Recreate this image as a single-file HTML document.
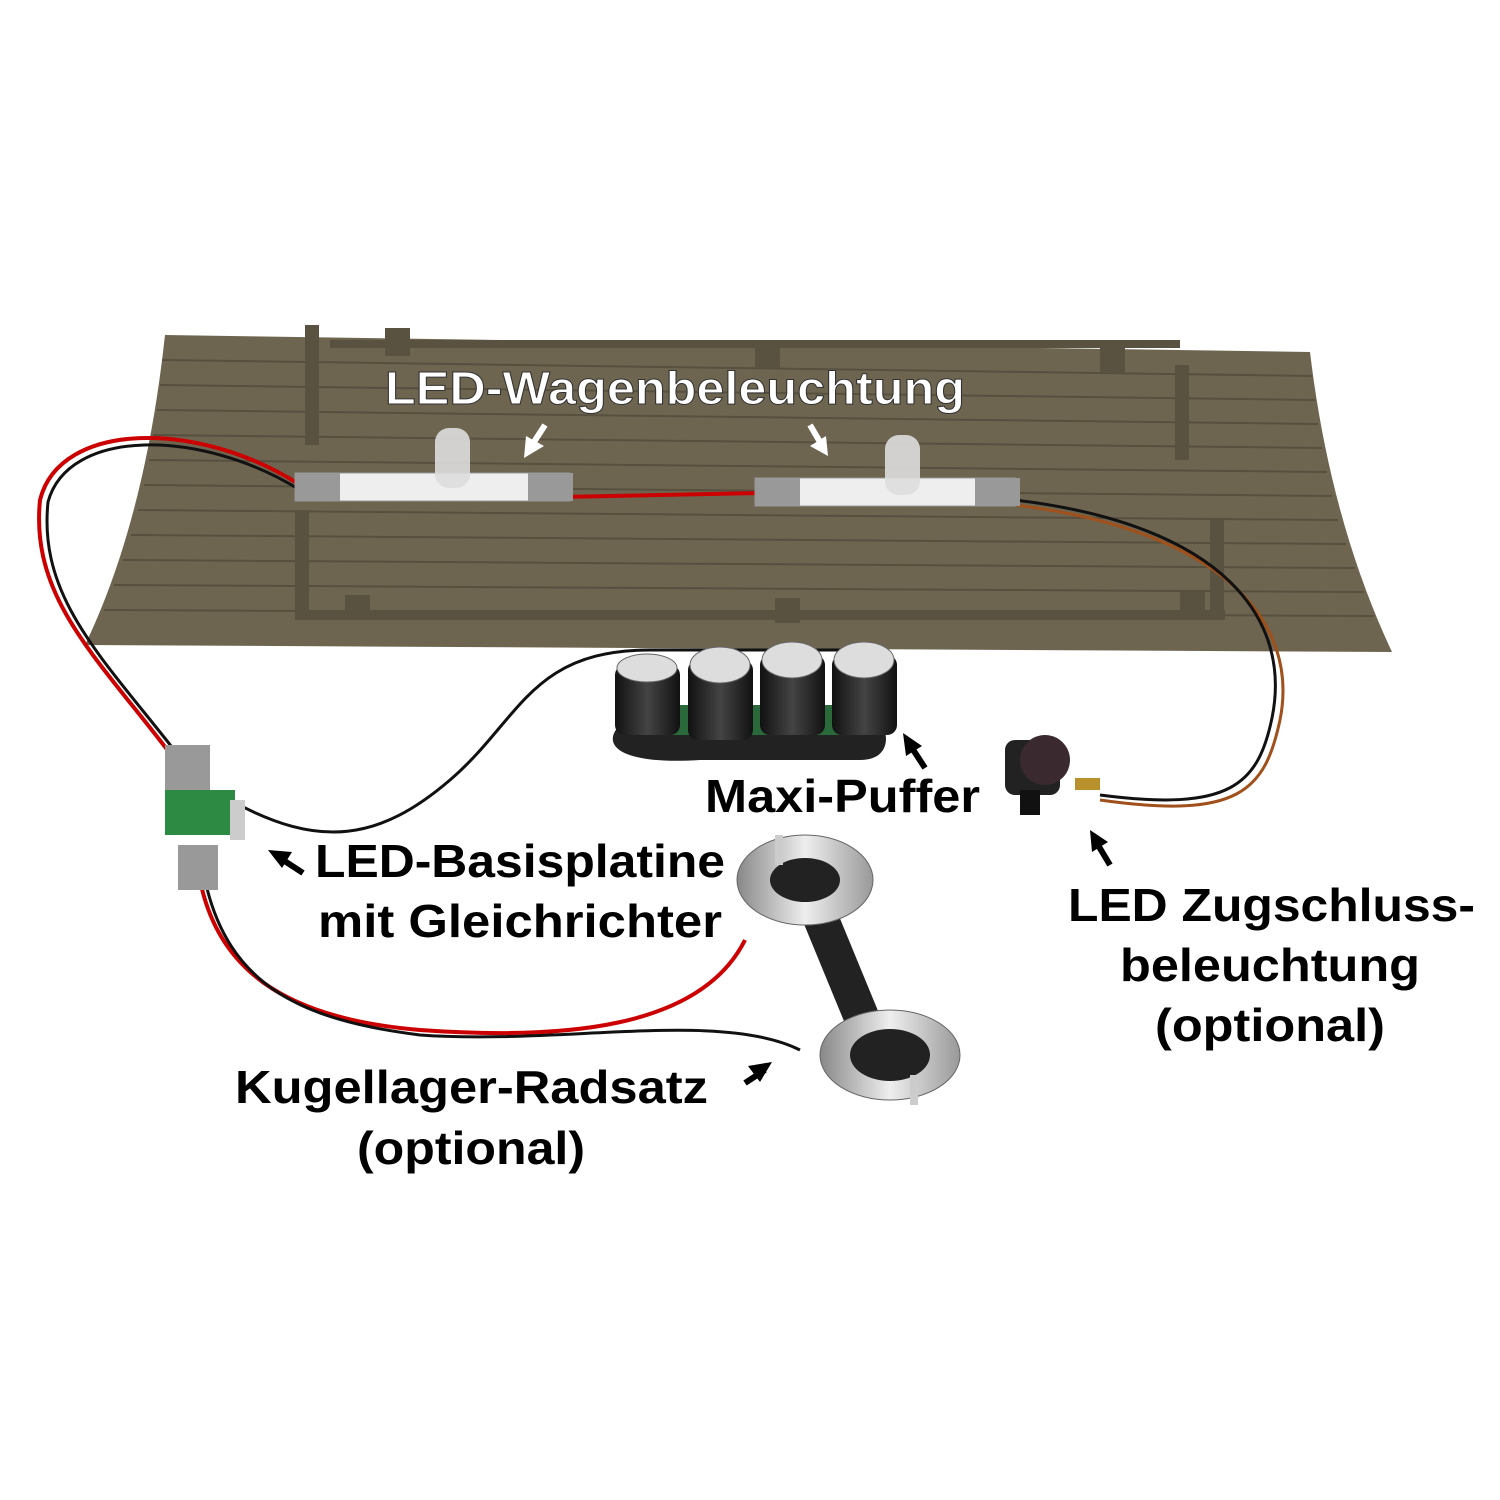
<!DOCTYPE html>
<html><head><meta charset="utf-8"><style>
html,body{margin:0;padding:0;background:#fff;}
svg{display:block}
text{font-family:"Liberation Sans",sans-serif;font-weight:bold;font-size:46px;}
</style></head><body>
<svg width="1500" height="1500" viewBox="0 0 1500 1500" xmlns="http://www.w3.org/2000/svg">
<defs>
<linearGradient id="wh" x1="0" y1="0" x2="1" y2="0"><stop offset="0" stop-color="#888"/><stop offset=".5" stop-color="#eee"/><stop offset="1" stop-color="#999"/></linearGradient>
<linearGradient id="cap" x1="0" y1="0" x2="1" y2="0"><stop offset="0" stop-color="#111"/><stop offset=".5" stop-color="#444"/><stop offset="1" stop-color="#111"/></linearGradient>
</defs>
<path d="M165,335 L1310,352 Q1330,520 1392,652 L85,645 Q145,520 165,335 Z" fill="#6e6551"/>
<g stroke="#57503f" stroke-width="2">
<line x1="162" y1="360" x2="1312" y2="376"/>
<line x1="160" y1="385" x2="1315" y2="400"/>
<line x1="157" y1="410" x2="1318" y2="424"/>
<line x1="153" y1="435" x2="1322" y2="448"/>
<line x1="149" y1="460" x2="1327" y2="472"/>
<line x1="144" y1="485" x2="1332" y2="496"/>
<line x1="138" y1="510" x2="1338" y2="520"/>
<line x1="131" y1="535" x2="1346" y2="544"/>
<line x1="123" y1="560" x2="1355" y2="568"/>
<line x1="114" y1="585" x2="1364" y2="592"/>
<line x1="104" y1="610" x2="1374" y2="616"/>
</g>
<g fill="#5a5241">
<rect x="305" y="325" width="14" height="120"/>
<rect x="1175" y="365" width="14" height="95"/>
<rect x="295" y="510" width="14" height="110"/>
<rect x="1210" y="520" width="14" height="100"/>
<rect x="330" y="340" width="850" height="8"/>
<rect x="305" y="610" width="920" height="10"/>
<rect x="385" y="328" width="25" height="28"/>
<rect x="755" y="340" width="25" height="28"/>
<rect x="1100" y="345" width="25" height="28"/>
<rect x="345" y="595" width="25" height="25"/>
<rect x="775" y="598" width="25" height="25"/>
<rect x="1180" y="592" width="25" height="25"/>
</g>
<path d="M300,485 C200,420 60,420 40,500 C30,600 100,660 175,760" fill="none" stroke="#c00" stroke-width="4"/>
<path d="M300,490 C200,428 68,428 48,502 C38,600 105,660 182,760" fill="none" stroke="#111" stroke-width="3"/>
<path d="M560,497 L760,493" stroke="#c00" stroke-width="4"/>
<path d="M1015,505 C1220,530 1300,620 1280,720 C1265,790 1240,820 1100,800" fill="none" stroke="#a0501a" stroke-width="3"/>
<path d="M1015,500 C1225,525 1292,620 1272,718 C1258,785 1230,812 1100,795" fill="none" stroke="#111" stroke-width="3"/>
<path d="M230,800 C320,850 380,840 450,780 C520,720 530,650 650,650 L870,650 C880,690 880,720 860,730" fill="none" stroke="#111" stroke-width="3"/>
<path d="M200,880 C220,980 300,1020 420,1030 C560,1040 700,1030 745,940" fill="none" stroke="#c00" stroke-width="4"/>
<path d="M205,880 C228,985 300,1020 420,1035 C560,1045 720,1010 800,1050" fill="none" stroke="#111" stroke-width="3"/>
<rect x="295" y="473" width="275" height="28" fill="#eee" stroke="#999"/>
<rect x="295" y="473" width="45" height="28" fill="#999"/>
<rect x="528" y="473" width="45" height="28" fill="#999"/>
<rect x="435" y="428" width="35" height="60" rx="14" fill="#ddd" opacity=".9"/>
<rect x="755" y="478" width="260" height="28" fill="#eee" stroke="#999"/>
<rect x="755" y="478" width="45" height="28" fill="#999"/>
<rect x="975" y="478" width="45" height="28" fill="#999"/>
<rect x="885" y="435" width="35" height="60" rx="14" fill="#ddd" opacity=".9"/>
<path d="M620,725 C600,745 620,765 700,760 L860,760 C890,760 890,735 880,720 Z" fill="#222"/>
<rect x="625" y="705" width="260" height="30" fill="#2a6a3a"/>
<g fill="url(#cap)">
<rect x="615" y="665" width="65" height="70" rx="10"/>
<rect x="688" y="660" width="65" height="80" rx="10"/>
<rect x="760" y="655" width="65" height="80" rx="10"/>
<rect x="832" y="655" width="65" height="80" rx="10"/>
</g>
<g fill="#ddd" stroke="#666">
<ellipse cx="647" cy="668" rx="30" ry="14"/>
<ellipse cx="720" cy="665" rx="30" ry="18"/>
<ellipse cx="792" cy="660" rx="30" ry="18"/>
<ellipse cx="864" cy="660" rx="30" ry="18"/>
</g>
<rect x="165" y="745" width="45" height="45" fill="#999"/>
<rect x="165" y="790" width="70" height="45" fill="#2d8a43"/>
<rect x="230" y="800" width="15" height="40" fill="#ccc"/>
<rect x="178" y="845" width="40" height="45" fill="#999"/>
<rect x="1005" y="740" width="55" height="55" rx="10" fill="#222"/>
<circle cx="1045" cy="760" r="25" fill="#3a2a30"/>
<rect x="1020" y="790" width="20" height="25" fill="#111"/>
<rect x="1075" y="778" width="25" height="12" fill="#b8902c"/>
<polygon points="790,890 820,870 890,1040 860,1060" fill="#222"/>
<ellipse cx="805" cy="880" rx="68" ry="45" fill="url(#wh)" stroke="#666"/>
<ellipse cx="805" cy="880" rx="35" ry="22" fill="#222"/>
<ellipse cx="890" cy="1055" rx="70" ry="45" fill="url(#wh)" stroke="#666"/>
<ellipse cx="890" cy="1055" rx="40" ry="26" fill="#222"/>
<rect x="775" y="835" width="8" height="30" fill="#ccc"/>
<rect x="910" y="1075" width="8" height="30" fill="#ccc"/>
<text x="385" y="404" fill="#fff" stroke="#333" stroke-width="1" textLength="580" lengthAdjust="spacingAndGlyphs">LED-Wagenbeleuchtung</text>
<text x="705" y="812" fill="#000" textLength="275" lengthAdjust="spacingAndGlyphs">Maxi-Puffer</text>
<text x="315" y="877" fill="#000" textLength="410" lengthAdjust="spacingAndGlyphs">LED-Basisplatine</text>
<text x="318" y="937" fill="#000" textLength="404" lengthAdjust="spacingAndGlyphs">mit Gleichrichter</text>
<text x="1068" y="921" fill="#000" textLength="407" lengthAdjust="spacingAndGlyphs">LED Zugschluss-</text>
<text x="1120" y="981" fill="#000" textLength="300" lengthAdjust="spacingAndGlyphs">beleuchtung</text>
<text x="1155" y="1041" fill="#000" textLength="230" lengthAdjust="spacingAndGlyphs">(optional)</text>
<text x="235" y="1103" fill="#000" textLength="473" lengthAdjust="spacingAndGlyphs">Kugellager-Radsatz</text>
<text x="357" y="1164" fill="#000" textLength="228" lengthAdjust="spacingAndGlyphs">(optional)</text>
<g stroke="#000" stroke-width="6" fill="#000">
<line x1="745" y1="1083" x2="765" y2="1070"/><polygon points="772,1062 748,1066 760,1082" stroke="none"/>
<line x1="303" y1="873" x2="280" y2="858"/><polygon points="268,850 292,852 282,868" stroke="none"/>
<line x1="925" y1="768" x2="912" y2="748"/><polygon points="903,733 922,746 906,756" stroke="none"/>
<line x1="1110" y1="865" x2="1098" y2="845"/><polygon points="1090,830 1108,842 1092,852" stroke="none"/>
</g>
<g stroke="#fff" stroke-width="6" fill="#fff">
<line x1="545" y1="425" x2="532" y2="445"/><polygon points="524,458 526,436 544,446" stroke="none"/>
<line x1="810" y1="425" x2="820" y2="442"/><polygon points="828,456 810,446 826,436" stroke="none"/>
</g>
</svg>
</body></html>
